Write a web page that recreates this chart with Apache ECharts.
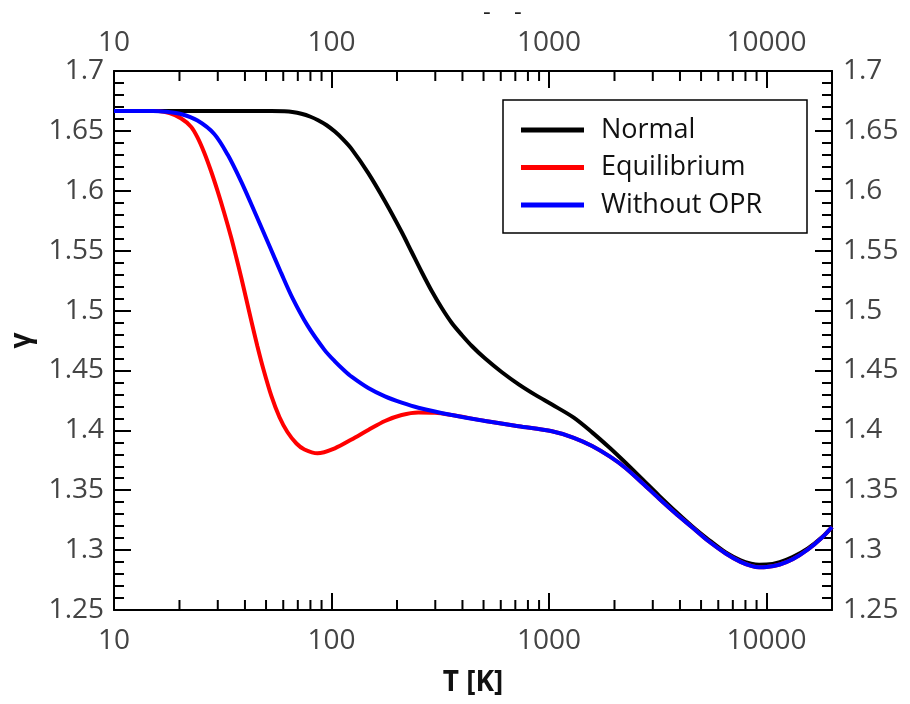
<!DOCTYPE html>
<html>
<head>
<meta charset="utf-8">
<script src="https://cdn.jsdelivr.net/npm/echarts@6/dist/echarts.min.js"></script>
<style>
html,body{margin:0;padding:0;background:#fff;}
#chart{width:910px;height:704px;}
</style>
</head>
<body>
<div id="chart"></div>
<script>
// ---- data ----
const normalT = [10, 20, 30, 40, 52.9, 60.7, 66.1, 72.7, 80.1, 86.8, 95.0, 103.6, 113.0, 123.6, 147.6, 176.1, 210.2, 233.7, 259.8, 288.9, 321.3, 357.3, 397.2, 441.7, 507.2, 607.3, 725.2, 864.9, 1032, 1300, 1578, 1900, 2248, 2700, 3202, 3800, 4560, 5400, 6494, 7600, 8500, 9250, 10000, 11500, 13180, 15500, 18000, 20000];
const normalGamma = [1.6667, 1.6667, 1.6667, 1.6667, 1.6667, 1.6664, 1.6658, 1.6643, 1.6618, 1.6589, 1.6547, 1.6494, 1.6429, 1.6350, 1.6148, 1.5913, 1.5656, 1.5489, 1.5322, 1.5163, 1.5021, 1.4896, 1.4796, 1.4704, 1.4601, 1.4485, 1.4384, 1.4296, 1.4215, 1.4106, 1.3983, 1.3854, 1.3729, 1.3587, 1.3455, 1.3327, 1.3198, 1.3089, 1.2980, 1.2915, 1.2887, 1.2878, 1.2879, 1.2900, 1.2942, 1.3015, 1.3107, 1.3192];

const equilT = [10, 14, 16, 18, 20.3, 22.6, 24.2, 26.0, 27.9, 29.9, 32.1, 34.5, 36.5, 38.5, 40.6, 42.8, 45.6, 48.6, 52.9, 57.6, 62.7, 69.0, 75.1, 86.2, 103.6, 123.6, 147.6, 176.1, 210.2, 250.9, 299.2, 357.3, 508.8, 725.2, 1032, 1300, 1578, 1900, 2248, 2700, 3202, 3800, 4560, 5400, 6494, 7600, 8500, 9250, 10000, 11500, 13180, 15500, 18000, 20000];
const equilGamma = [1.6667, 1.6667, 1.6665, 1.6648, 1.6605, 1.6535, 1.6446, 1.6318, 1.6167, 1.6001, 1.5817, 1.5616, 1.5443, 1.5272, 1.5092, 1.4913, 1.4704, 1.4512, 1.4287, 1.4111, 1.3986, 1.3890, 1.3840, 1.3808, 1.3850, 1.3923, 1.4003, 1.4078, 1.4128, 1.4149, 1.4147, 1.4128, 1.4078, 1.4034, 1.3992, 1.3938, 1.3869, 1.3782, 1.3686, 1.3556, 1.3431, 1.3310, 1.3189, 1.3076, 1.2972, 1.2902, 1.2869, 1.2857, 1.2859, 1.2880, 1.2923, 1.3005, 1.3105, 1.3193];

const noOprT = [10, 15.1, 17.4, 20.3, 24.2, 28.9, 33.3, 38.4, 44.2, 51.8, 58.8, 66.1, 77.5, 92.8, 103.6, 114.8, 123.6, 147.6, 176.1, 210.2, 250.9, 357.3, 508.8, 725.2, 1032, 1300, 1578, 1900, 2248, 2700, 3202, 3800, 4560, 5400, 6494, 7600, 8500, 9250, 10000, 11500, 13180, 15500, 18000, 20000];
const noOprGamma = [1.6667, 1.6666, 1.6659, 1.6641, 1.6586, 1.6474, 1.6302, 1.6078, 1.5829, 1.5541, 1.5310, 1.5106, 1.4876, 1.4672, 1.4576, 1.4498, 1.4448, 1.4353, 1.4283, 1.4231, 1.4189, 1.4128, 1.4078, 1.4034, 1.3992, 1.3938, 1.3869, 1.3782, 1.3686, 1.3556, 1.3431, 1.3310, 1.3189, 1.3076, 1.2972, 1.2902, 1.2869, 1.2857, 1.2859, 1.2880, 1.2923, 1.3005, 1.3105, 1.3193];

const seriesNames = ['Normal', 'Equilibrium', 'Without OPR'];
const seriesColors = ['#000000', '#ff0000', '#0000ff'];
const xMin = 10, xMax = 20000;
const yMin = 1.25, yMax = 1.7, yStep = 0.05;
const xMinorTicks = [20, 30, 40, 50, 60, 70, 80, 90, 200, 300, 400, 500, 600, 700, 800, 900, 2000, 3000, 4000, 5000, 6000, 7000, 8000, 9000];
const xTitle = 'T [K]';
const yTitle = 'γ';

// ---- chart ----
const FONT = "'Open Sans', 'Noto Sans', sans-serif";
const labelStyle = { fontFamily: FONT, fontSize: 28, color: '#444444' };
const axisLineStyle = { color: '#000', width: 2 };
const tickStyle = { color: '#000', width: 2 };

function zip(a, b) { return a.map((v, i) => [v, b[i]]); }

function xAxisDef(pos, withName) {
  const ax = {
    type: 'log', logBase: 10, min: xMin, max: xMax, position: pos,
    axisLine: { show: true, lineStyle: axisLineStyle },
    axisTick: { show: true, inside: true, length: 17, lineStyle: tickStyle },
    axisLabel: Object.assign({ margin: pos === 'bottom' ? 17 : 14, showMaxLabel: false,
      formatter: v => String(Math.round(v)) }, labelStyle),
    splitLine: { show: false }
  };
  if (withName) {
    ax.name = xTitle; ax.nameLocation = 'middle'; ax.nameGap = 59;
    ax.nameTextStyle = { fontFamily: FONT, fontSize: 28, fontWeight: 'bold', color: '#111' };
  }
  return ax;
}
function yAxisDef(pos, withName) {
  const ax = {
    type: 'value', min: yMin, max: yMax, interval: yStep, position: pos,
    axisLine: { show: true, lineStyle: axisLineStyle },
    axisTick: { show: true, inside: true, length: 17, lineStyle: tickStyle },
    minorTick: { show: true, splitNumber: 5, length: 10, lineStyle: tickStyle },
    axisLabel: Object.assign({ margin: pos === 'left' ? 10 : 11,
      formatter: v => String(parseFloat(v.toFixed(2))) }, labelStyle),
    splitLine: { show: false }, minorSplitLine: { show: false }
  };
  if (withName) {
    ax.name = yTitle; ax.nameLocation = 'middle'; ax.nameGap = 78;
    ax.nameTextStyle = { fontFamily: FONT, fontSize: 28, fontWeight: 'bold', color: '#111' };
  }
  return ax;
}

const dataSets = [zip(normalT, normalGamma), zip(equilT, equilGamma), zip(noOprT, noOprGamma)];

const lineSeries = seriesNames.map((n, i) => ({
  name: n, type: 'line', data: dataSets[i], xAxisIndex: 0, yAxisIndex: 0,
  symbol: 'none', smooth: 0.3, z: 3 + i,
  lineStyle: { color: seriesColors[i], width: 4 }, itemStyle: { color: seriesColors[i] }
}));

const minorTickSeries = {
  type: 'custom', xAxisIndex: 0, yAxisIndex: 0, silent: true, clip: false, z: 10,
  data: xMinorTicks.map(v => [v, yMin]),
  renderItem: function (params, api) {
    const v = api.value(0);
    const b = api.coord([v, yMin]);
    const t = api.coord([v, yMax]);
    return { type: 'group', children: [
      { type: 'line', shape: { x1: b[0], y1: b[1], x2: b[0], y2: b[1] - 10 }, style: { stroke: '#000', lineWidth: 2 } },
      { type: 'line', shape: { x1: t[0], y1: t[1], x2: t[0], y2: t[1] + 10 }, style: { stroke: '#000', lineWidth: 2 } }
    ]};
  }
};

const chart = echarts.init(document.getElementById('chart'), null, { renderer: 'canvas' });
chart.setOption({
  animation: false,
  backgroundColor: '#ffffff',
  grid: { left: 113, right: 78, top: 71, bottom: 94, containLabel: false },
  xAxis: [xAxisDef('bottom', true), xAxisDef('top', false)],
  yAxis: [yAxisDef('left', true), yAxisDef('right', false)],
  legend: {
    data: seriesNames, orient: 'vertical', left: 503, top: 100,
    padding: [15, 21, 13, 18], itemGap: 7.5, itemWidth: 63, itemHeight: 5, icon: 'rect',
    borderColor: '#000', borderWidth: 1.5, backgroundColor: '#fff',
    textStyle: { fontFamily: FONT, fontSize: 27, color: '#111', lineHeight: 30, width: 185, padding: [0, 0, 0, 12] }
  },
  graphic: [
    { type: 'text', left: 483, top: 1, style: { text: '-', font: '24px ' + FONT, fill: '#222' } },
    { type: 'text', left: 514, top: 1, style: { text: '-', font: '24px ' + FONT, fill: '#222' } }
  ],
  series: lineSeries.concat([minorTickSeries])
});
</script>
</body>
</html>
